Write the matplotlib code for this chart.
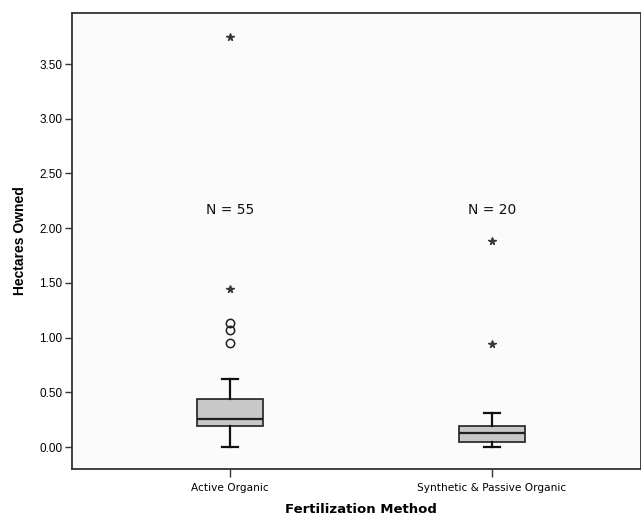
import numpy as np
import matplotlib.pyplot as plt

# ------------------------------------------------------------------
# DATA
groups = ['Active Organic', 'Synthetic & Passive Organic']
counts = [55, 20]
q1 = [0.19, 0.05]
med = [0.26, 0.13]
q3 = [0.44, 0.19]
whislo = [0.00, 0.00]
whishi = [0.62, 0.31]
outliers = [[0.95, 1.07, 1.13], []]        # circles
extremes = [[1.44, 3.75], [0.94, 1.88]]     # stars
# ------------------------------------------------------------------

fig = plt.figure(figsize=(6.41, 5.18), dpi=100)
ax = fig.add_axes([72 / 641, 49 / 518, 1 - 72 / 641, (469 - 13) / 518])
ax.set_facecolor('#fbfbfb')

stats = []
for i in range(len(groups)):
    stats.append(dict(med=med[i], q1=q1[i], q3=q3[i], whislo=whislo[i],
                      whishi=whishi[i], fliers=outliers[i]))

pos = np.arange(1, len(groups) + 1)
ax.bxp(stats, positions=pos, widths=0.25, capwidths=0.062, patch_artist=True,
       boxprops=dict(facecolor='#c8c8c8', edgecolor='#202020', linewidth=1.2),
       medianprops=dict(color='#202020', linewidth=1.6),
       whiskerprops=dict(color='#101010', linewidth=1.6),
       capprops=dict(color='#101010', linewidth=1.6),
       flierprops=dict(marker='o', markersize=6, markerfacecolor='none',
                       markeredgecolor='#202020', markeredgewidth=1.1))

for p, ex in zip(pos, extremes):
    ax.plot([p] * len(ex), ex, linestyle='none', marker='*', markersize=5.5,
            color='#383838')

for p, n in zip(pos, counts):
    ax.text(p, 2.17, 'N = {}'.format(n), ha='center', va='center',
            fontsize=10, family='DejaVu Sans', color='#111111')

ax.set_xlim(0.397, 2.569)
ax.set_ylim(-0.201, 3.967)
ax.set_yticks(np.arange(0, 3.51, 0.5))
ax.set_yticklabels(['{:.2f}'.format(v) for v in np.arange(0, 3.51, 0.5)],
                   family='Liberation Sans', fontsize=8.5)
ax.set_xticks(pos)
ax.set_xticklabels(groups, family='DejaVu Sans', fontsize=7.6)
ax.tick_params(axis='y', direction='out', length=5, width=1, color='#333333',
               pad=2)
ax.tick_params(axis='x', direction='out', length=6, width=1, color='#333333',
               pad=4)

for s in ax.spines.values():
    s.set_color('#333333')
    s.set_linewidth(1.3)

ax.set_ylabel('Hectares Owned', family='Liberation Sans', fontsize=10,
              fontweight='bold', labelpad=9)
ax.set_xlabel('Fertilization Method', family='DejaVu Sans', fontsize=9.5,
              fontweight='bold', labelpad=7)
ax.xaxis.label.set_x(0.508)

fig.savefig('out.png', dpi=100)
